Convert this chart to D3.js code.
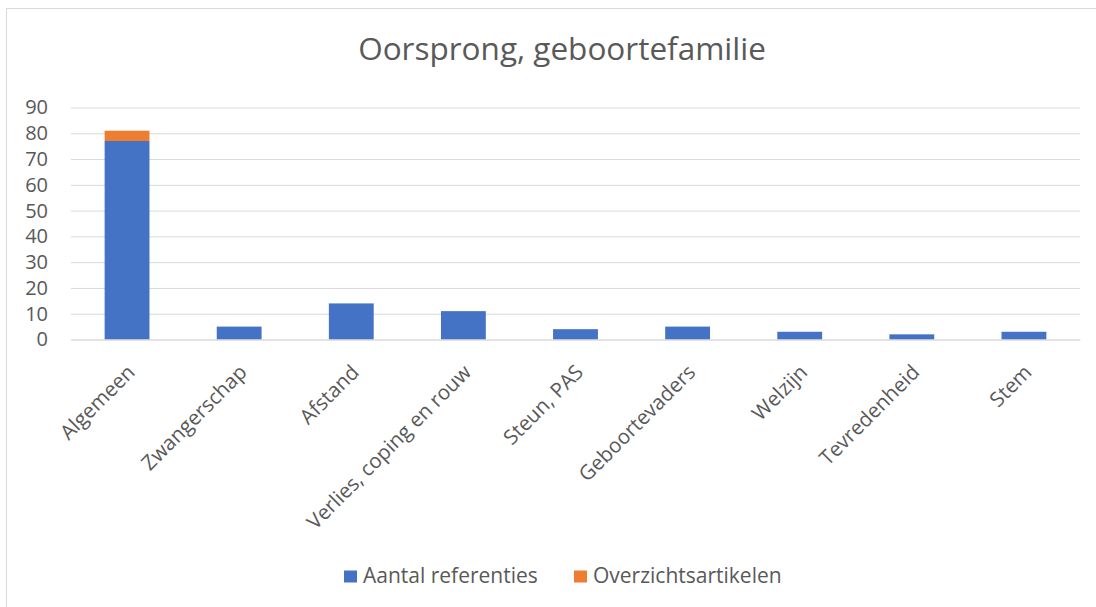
<!DOCTYPE html>
<html>
<head>
<meta charset="utf-8">
<script src="https://cdn.jsdelivr.net/npm/d3@7"></script>
<style>
  html, body { margin: 0; padding: 0; background: #fff; }
  svg { display: block; font-family: "Open Sans", "Noto Sans", sans-serif; }
</style>
</head>
<body>
<svg id="chart" width="1096" height="607"></svg>
<script>
const title = "Oorsprong, geboortefamilie";
const categories = ["Algemeen", "Zwangerschap", "Afstand", "Verlies, coping en rouw", "Steun, PAS", "Geboortevaders", "Welzijn", "Tevredenheid", "Stem"];
const seriesNames = ["Aantal referenties", "Overzichtsartikelen"];
const aantalReferenties = [77, 5, 14, 11, 4, 5, 3, 2, 3];
const overzichtsartikelen = [4, 0, 0, 0, 0, 0, 0, 0, 0];
const yTicks = [0, 10, 20, 30, 40, 50, 60, 70, 80, 90];
const colors = ["#4472C4", "#ED7D31"];

const svg = d3.select("#chart");
const textColor = "#595959";
const gridColor = "#D9D9D9";

// chart border
svg.append("rect")
  .attr("x", 6.5).attr("y", 8.5)
  .attr("width", 1100).attr("height", 620)
  .attr("fill", "#fff").attr("stroke", gridColor).attr("stroke-width", 1);

const plot = { left: 71, right: 1080, top: 107.5, bottom: 339.5 };

const x = d3.scaleBand()
  .domain(categories)
  .range([plot.left, plot.right])
  .paddingInner(0.6)
  .paddingOuter(0.3);

const y = d3.scaleLinear()
  .domain([0, 90])
  .range([plot.bottom, plot.top]);

// title
svg.append("text")
  .attr("x", 562).attr("y", 60)
  .attr("text-anchor", "middle")
  .attr("fill", textColor)
  .style("font-size", "31.5px")
  .text(title);

// gridlines + y labels via axis
const yAxis = d3.axisLeft(y).tickValues(yTicks).tickSize(-(plot.right - plot.left)).tickPadding(23);
const yg = svg.append("g").attr("transform", `translate(${plot.left},0)`).call(yAxis);
yg.select(".domain").remove();
yg.selectAll(".tick line").attr("stroke", gridColor).attr("stroke-width", 1);
yg.selectAll(".tick text").attr("fill", textColor).style("font-size", "20px").style("font-family", "\"Open Sans\", sans-serif");

// stacked data
const data = categories.map((c, i) => ({ cat: c, a: aantalReferenties[i], o: overzichtsartikelen[i] }));
const stack = d3.stack().keys(["a", "o"]);
const stacked = stack(data);

svg.append("g").selectAll("g")
  .data(stacked)
  .join("g")
  .attr("fill", (d, i) => colors[i])
  .selectAll("rect")
  .data(d => d.filter(v => v[1] - v[0] > 0))
  .join("rect")
  .attr("x", d => x(d.data.cat))
  .attr("width", x.bandwidth())
  .attr("y", d => y(d[1]))
  .attr("height", d => y(d[0]) - y(d[1]));

// x axis line
const xAxis = d3.axisBottom(x).tickSize(0).tickPadding(0);
const xg = svg.append("g").attr("transform", `translate(0,${plot.bottom})`).call(xAxis);
xg.select(".domain").attr("stroke", gridColor);
xg.selectAll(".tick text")
  .attr("fill", textColor)
  .style("font-size", "20.5px")
  .style("font-family", "\"Open Sans\", sans-serif")
  .attr("text-anchor", "end")
  .attr("y", 0)
  .attr("dy", null)
  .attr("transform", "translate(9,34) rotate(-45)");

// legend
const legendItems = [
  { name: seriesNames[0], color: colors[0], x: 344 },
  { name: seriesNames[1], color: colors[1], x: 574 }
];
const lg = svg.append("g");
legendItems.forEach(it => {
  lg.append("rect").attr("x", it.x).attr("y", 570.5).attr("width", 13).attr("height", 12).attr("fill", it.color);
  lg.append("text").attr("x", it.x + 19).attr("y", 583)
    .attr("fill", textColor).style("font-size", "21px").text(it.name);
});
</script>
</body>
</html>
